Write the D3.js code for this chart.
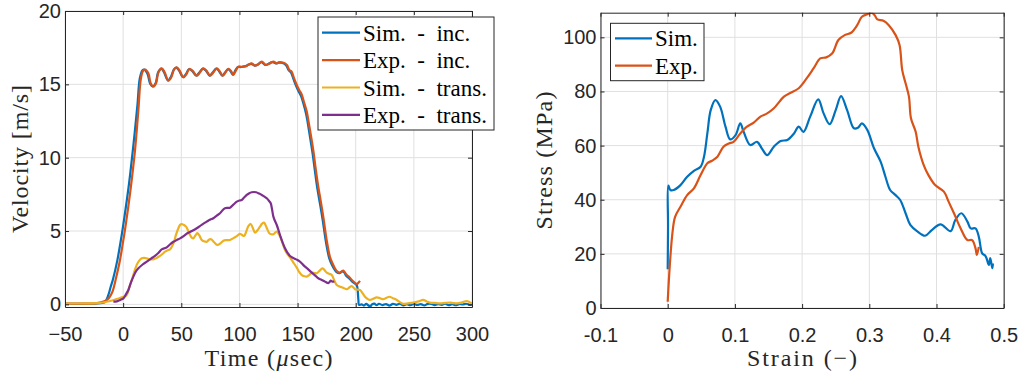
<!DOCTYPE html>
<html>
<head>
<meta charset="utf-8">
<script src="https://cdn.jsdelivr.net/npm/d3@7"></script>
<style>
  body { margin: 0; background: #fff; }
  svg { display: block; }
  .axis text { font-family: "Liberation Sans", Arial, sans-serif; font-size: 20px; fill: #262626; }
  .axis-label { font-family: "Liberation Serif", "Times New Roman", serif; font-size: 24px; fill: #262626; }
  .legend-text { font-family: "Liberation Serif", "Times New Roman", serif; font-size: 23px; fill: #000; white-space: pre; }
</style>
</head>
<body>
<svg id="chart" width="1031" height="378"></svg>
<script>
"use strict"

// ---- left panel: velocity vs time ----
const velTimeTicks = [-50, 0, 50, 100, 150, 200, 250, 300];
const velTicks = [0, 5, 10, 15, 20];
const velNames = ["Sim.  -  inc.", "Exp.  -  inc.", "Sim.  -  trans.", "Exp.  -  trans."];

const simInc = [[-50,0.04],[-30,0.04],[-22,0.06],[-18,0.1],[-15.6,0.15],[-12.7,0.64],[-10.7,1.2],[-8.9,1.66],[-5,3.0],[-1.5,4.6],[1,5.9],[5,8.2],[9,11.0],[12.3,13.6],[14.3,15.4],[16.5,15.95],[18.2,16.0],[21,15.7],[23.2,15.05],[25.5,14.86],[28,15.1],[30,15.8],[32.8,16.07],[35,15.85],[38.5,15.27],[41,15.5],[43.6,16.0],[45.7,16.14],[48,15.95],[51.4,15.5],[54,15.7],[56.5,16.03],[59.5,15.9],[62.9,15.6],[65.5,15.8],[68.6,16.07],[71.5,15.9],[74.3,15.6],[77,15.8],[80,16.07],[82.5,15.9],[85.2,15.6],[87.5,15.8],[90,16.03],[92.3,15.9],[94.4,15.66],[96.5,15.95],[98.7,16.18],[101,16.18],[103,16.2],[105.5,16.24],[107.5,16.33],[110.2,16.4],[113,16.28],[115.5,16.34],[118.8,16.52],[122.2,16.33],[125,16.4],[127,16.48],[128.8,16.52],[131.7,16.42],[133.6,16.48],[136,16.47],[138.8,16.4],[140.5,16.25],[142.4,15.95],[144.4,15.8],[146.5,15.35],[148.7,14.9],[151,14.5],[153,14.2],[155,13.7],[157.3,13.0],[158.7,12.4],[160.9,11.3],[162.9,10.3],[164.9,9.1],[167.2,7.8],[169.4,6.8],[171.5,5.8],[174.4,4.25],[177.2,3.15],[179.5,2.7],[181.6,2.4],[183.5,2.2],[186,2.12],[188.6,2.25],[190,2.2],[191.8,1.95],[194,1.8],[196.2,1.62],[198.4,1.47],[200.5,1.35],[201.3,1.2],[202.3,0.3],[202.8,-0.04],[205,0.0],[207,-0.08],[209,0.03],[211,-0.08],[212.5,-0.15],[214,0.0],[216,0.05],[218,-0.06],[220,0.04],[223,-0.05],[226,0.02],[229,-0.08],[232,0.03],[235,-0.03],[238,0.04],[241,-0.07],[244,0.01],[247,-0.06],[250,0.03],[253,-0.04],[256,0.02],[259,-0.07],[262,0.03],[265,0.03],[268,-0.05],[271,0.02],[274,-0.03],[277,0.04],[280,-0.05],[283,0.01],[286,-0.06],[289,0.02],[292,-0.01],[295,0.04],[298,-0.03],[300,0.01]];

const expInc = [[-50,0.05],[-35,0.05],[-25,0.06],[-20,0.12],[-15,0.25],[-12,0.45],[-9,0.9],[-6.5,1.66],[-3,2.9],[0,4.3],[2,5.3],[6,7.6],[10.2,10.5],[13.1,13.25],[15.1,15.3],[17,15.9],[18.8,16.0],[21.7,15.75],[23.7,15.07],[26,14.84],[28.3,15.07],[30.3,15.8],[33.2,16.09],[35.5,15.86],[38.9,15.25],[41.5,15.5],[44,16.05],[46.1,16.16],[48.5,15.95],[51.8,15.48],[54.5,15.7],[56.9,16.05],[60,15.9],[63.3,15.59],[66,15.8],[69,16.09],[72,15.9],[74.7,15.59],[77.5,15.8],[80.5,16.09],[83,15.9],[85.6,15.59],[88,15.8],[90.5,16.05],[92.8,15.9],[94.8,15.64],[97,15.95],[99.1,16.2],[101.5,16.2],[103.4,16.22],[106,16.25],[108,16.35],[110.6,16.43],[113.4,16.27],[116,16.35],[119.2,16.55],[122.6,16.32],[125.5,16.4],[127.5,16.5],[129.2,16.55],[132.1,16.43],[134,16.5],[136.4,16.5],[139.2,16.43],[141,16.3],[142.9,15.98],[144.9,15.86],[147,15.4],[149.3,14.96],[151.5,14.6],[153.6,14.3],[155.5,13.8],[157.9,13.14],[159.2,12.57],[161.5,11.5],[163.5,10.52],[165.5,9.3],[167.8,8.02],[170,7.0],[172.1,5.98],[175,4.39],[177.8,3.25],[180,2.8],[182.1,2.46],[184,2.25],[186.4,2.16],[188,2.25],[189.3,2.3],[190.5,2.2],[192.3,2.0],[194.5,1.85],[196.6,1.66],[198.8,1.5],[200.9,1.39],[202,1.45],[203.7,1.6]];

const simTrans = [[-50,0.06],[-40,0.06],[-30,0.07],[-20,0.1],[-14.1,0.18],[-8,0.3],[-4,0.4],[0.2,0.52],[3.1,0.64],[5,1.1],[7.4,1.66],[9.5,2.2],[11.7,2.69],[14,3.0],[16,3.14],[18,3.17],[20.3,3.14],[23,3.08],[26,3.07],[28.5,3.15],[31.7,3.3],[34,3.45],[36,3.59],[38,3.68],[40.3,3.75],[42,3.95],[43.8,4.27],[45.5,4.75],[47.5,5.19],[49,5.42],[50.4,5.48],[52,5.42],[54.1,5.3],[56,5.0],[57.5,4.73],[59,4.55],[60.4,4.5],[62,4.68],[63.8,4.85],[65.5,4.7],[67.6,4.39],[69.5,4.3],[71.9,4.27],[73.7,4.4],[75.6,4.44],[78,4.25],[81,4.05],[83.5,4.15],[86.2,4.34],[89,4.38],[91.9,4.39],[94.5,4.5],[97.1,4.62],[98.8,4.72],[100.5,4.8],[102,4.75],[104,4.66],[106,5.0],[107.7,5.34],[109.7,5.48],[111.5,5.2],[113.4,4.89],[115.5,5.05],[117.7,5.3],[119.5,5.5],[121.2,5.57],[123.5,5.2],[125.7,4.85],[127.5,4.78],[129.2,4.78],[132.1,4.96],[134.9,4.62],[137,4.2],[139.2,3.71],[141.5,3.4],[143.5,3.2],[146,2.9],[149.3,2.5],[151.5,2.2],[153.6,2.0],[155.8,1.92],[157.9,1.89],[160,2.0],[162.2,2.16],[164.5,2.14],[166.5,2.12],[169,2.3],[171.3,2.46],[173,2.35],[175.1,2.16],[177.2,2.08],[179.4,2.0],[181.5,1.65],[183.7,1.32],[186,1.22],[188,1.17],[190,1.1],[192.3,1.03],[194.5,1.15],[196.6,1.25],[198,1.15],[199.4,1.03],[201.5,1.0],[203.7,0.98],[206,0.75],[208,0.52],[210,0.38],[212.3,0.3],[215,0.38],[218,0.48],[221,0.42],[223.7,0.35],[226.5,0.45],[228.9,0.52],[232,0.42],[235.3,0.3],[238,0.15],[240.9,0.03],[245,0.07],[249.5,0.12],[254,0.2],[258.1,0.3],[261,0.2],[263.9,0.12],[268,0.1],[272.5,0.07],[277,0.1],[281.1,0.12],[284,0.09],[286.8,0.07],[291,0.12],[295.4,0.23],[298,0.15],[300,0.07]];

const expTrans = [[-8.4,0.18],[-5.5,0.2],[-2.5,0.3],[0.2,0.41],[2.5,0.7],[4.5,0.98],[6.5,1.45],[8.8,1.89],[11,2.25],[13.1,2.46],[16.5,2.7],[20.3,2.91],[24,3.12],[27.4,3.3],[30.5,3.52],[33.2,3.75],[35.5,3.82],[37.5,3.89],[40.5,4.1],[43.2,4.27],[46,4.38],[49,4.5],[52,4.65],[55.2,4.85],[59,5.0],[63.3,5.19],[67.5,5.42],[71.9,5.64],[75,5.78],[77.6,5.87],[80.5,6.05],[83.3,6.21],[85.5,6.42],[87.6,6.55],[89.8,6.58],[91.9,6.59],[94.8,6.8],[97.7,7.0],[100,7.08],[102,7.12],[104.2,7.3],[106.3,7.46],[108.5,7.58],[110.6,7.64],[112.5,7.66],[114.3,7.64],[117,7.55],[119.2,7.46],[121.5,7.35],[123.5,7.23],[125.5,7.05],[126.9,6.89],[128,6.5],[129.2,5.98],[130.5,5.7],[132.1,5.41],[134.9,4.73],[137,4.25],[139.2,3.82],[141.5,3.5],[143.5,3.3],[146.5,3.15],[149.3,3.05],[151.5,2.95],[153.5,2.8],[156.4,2.57],[159,2.4],[162.2,2.16],[165,1.98],[167.8,1.78],[170.5,1.68],[173.6,1.55],[176.4,1.44],[177.5,1.52],[178.5,1.62],[180,1.55],[181.6,1.55]];

// ---- right panel: stress vs strain ----
const strainTicks = [-0.1, 0, 0.1, 0.2, 0.3, 0.4, 0.5];
const stressTicks = [0, 20, 40, 60, 80, 100];
const stressNames = ["Sim.", "Exp."];

const simStress = [[0,14.3],[0.0005,30],[0.001,45.2],[0.004,43.6],[0.009,43.6],[0.019,45.4],[0.029,48.5],[0.039,50.7],[0.049,52.2],[0.054,55.9],[0.059,64.5],[0.064,73.1],[0.071,76.8],[0.078,74.4],[0.086,67.0],[0.093,62.3],[0.101,63.9],[0.108,68.2],[0.113,65.1],[0.123,60.2],[0.133,61.4],[0.140,59.0],[0.148,56.5],[0.158,59.6],[0.168,61.7],[0.178,62.1],[0.188,64.5],[0.195,67.0],[0.202,65.1],[0.212,70.7],[0.224,77.1],[0.232,71.9],[0.241,67.9],[0.250,73.1],[0.258,78.3],[0.267,73.1],[0.277,66.4],[0.283,66.6],[0.289,68.2],[0.297,65.8],[0.307,59.0],[0.317,54.0],[0.324,48.5],[0.331,43.6],[0.339,41.7],[0.346,39.9],[0.354,35.0],[0.361,30.7],[0.371,28.4],[0.383,26.7],[0.393,28.8],[0.406,30.9],[0.421,28.4],[0.428,32.5],[0.437,35.0],[0.446,31.9],[0.451,29.4],[0.458,29.4],[0.463,26.3],[0.468,20.2],[0.473,19.2],[0.478,15.9],[0.480,18.4],[0.483,14.7],[0.484,16.5]];

const expStress = [[0,2.3],[0.003,15.3],[0.007,27.6],[0.011,33.7],[0.019,37.4],[0.029,41.7],[0.039,44.2],[0.049,49.1],[0.059,53.5],[0.066,54.4],[0.074,55.9],[0.083,59.6],[0.091,60.8],[0.098,61.4],[0.108,64.5],[0.118,67.0],[0.128,68.5],[0.138,70.7],[0.148,71.9],[0.158,73.8],[0.173,78.1],[0.183,79.5],[0.195,81.2],[0.207,84.9],[0.217,88.5],[0.227,92.2],[0.236,92.6],[0.245,94.1],[0.254,99.0],[0.264,100.9],[0.273,101.7],[0.282,104.5],[0.289,107.6],[0.297,108.5],[0.303,109.1],[0.308,108.2],[0.312,106.6],[0.321,106.1],[0.329,104.5],[0.339,100.9],[0.345,97.2],[0.349,87.9],[0.354,83.0],[0.359,78.1],[0.362,70.1],[0.369,65.1],[0.373,59.6],[0.381,52.8],[0.388,49.1],[0.398,45.4],[0.411,43.0],[0.418,39.3],[0.426,35.0],[0.436,29.4],[0.446,25.1],[0.453,25.1],[0.458,22.1],[0.460,19.6],[0.463,22.6]];

const matlabColors = ["#0072BD", "#D95319", "#EDB120", "#7E2F8E"];

window.addEventListener("load", drawCharts);

function drawCharts() {
  let svg = d3.select("#chart");

  let left = drawPanel(svg, {
    id: "left", left: 65, right: 472, top: 11, bottom: 307,
    xDomain: [-50, 300], yDomain: [-0.18, 20],
    xTicks: velTimeTicks, yTicks: velTicks, xFormat: d3.format("d"), yFormat: d3.format("d"),
    series: [simInc, expInc, simTrans, expTrans]
  });
  drawLegend(svg, velNames, {x: 318, y: 17, w: 176, h: 113, lineX: 322, lineLen: 38, textX: 363, rowY: 32.7, rowStep: 27.4});

  // x label with italic mu
  let xl = svg.append("text").attr("class", "axis-label")
    .attr("x", 268.5).attr("y", 366).attr("text-anchor", "middle")
    .attr("textLength", 128).attr("lengthAdjust", "spacing");
  xl.append("tspan").text("Time (");
  xl.append("tspan").style("font-style", "italic").text("\u03bc");
  xl.append("tspan").text("sec)");
  svg.append("text").attr("class", "axis-label")
    .attr("transform", "translate(28,159) rotate(-90)")
    .attr("text-anchor", "middle")
    .attr("textLength", 148).attr("lengthAdjust", "spacing")
    .text("Velocity [m/s]");

  drawPanel(svg, {
    id: "right", left: 600.5, right: 1003.7, top: 12.7, bottom: 308,
    xDomain: [-0.1, 0.5], yDomain: [0, 109.1],
    xTicks: strainTicks, yTicks: stressTicks, xFormat: d => String(d), yFormat: d3.format("d"),
    series: [simStress, expStress]
  });
  drawLegend(svg, stressNames, {x: 610.5, y: 23.3, w: 93.5, h: 57.4, lineX: 615, lineLen: 37, textX: 655, rowY: 38.3, rowStep: 27.4});

  svg.append("text").attr("class", "axis-label")
    .attr("x", 802).attr("y", 366).attr("text-anchor", "middle")
    .attr("textLength", 110).attr("lengthAdjust", "spacing")
    .text("Strain (\u2212)");
  svg.append("text").attr("class", "axis-label")
    .attr("transform", "translate(552,160.5) rotate(-90)")
    .attr("text-anchor", "middle")
    .attr("textLength", 138).attr("lengthAdjust", "spacing")
    .text("Stress (MPa)");
}

function drawPanel(svg, p) {
  let x = d3.scaleLinear().domain(p.xDomain).range([p.left, p.right]);
  let y = d3.scaleLinear().domain(p.yDomain).range([p.bottom, p.top]);
  let g = svg.append("g");

  // grid lines (MATLAB style light grey)
  g.selectAll(".gx").data(p.xTicks).enter().append("line")
    .attr("x1", d => x(d)).attr("x2", d => x(d))
    .attr("y1", p.top).attr("y2", p.bottom)
    .style("stroke", "#e0e0e0").style("stroke-width", 1);
  g.selectAll(".gy").data(p.yTicks).enter().append("line")
    .attr("x1", p.left).attr("x2", p.right)
    .attr("y1", d => y(d)).attr("y2", d => y(d))
    .style("stroke", "#e0e0e0").style("stroke-width", 1);

  g.append("clipPath").attr("id", "clip-" + p.id)
    .append("rect")
      .attr("x", p.left).attr("y", p.top)
      .attr("width", p.right - p.left).attr("height", p.bottom - p.top);

  let line = d3.line()
    .x(d => x(d[0]))
    .y(d => y(d[1]))
    .curve(d3.curveCatmullRom.alpha(0.5));

  g.append("g").attr("clip-path", "url(#clip-" + p.id + ")")
    .selectAll("path")
    .data(p.series)
    .enter()
    .append("path")
      .attr("d", line)
      .style("fill", "none")
      .style("stroke", (d, i) => matlabColors[i])
      .style("stroke-width", 2.2)
      .style("stroke-linejoin", "round");

  // axes with inward ticks on all four sides
  let axes = [
    [d3.axisBottom(x).tickValues(p.xTicks).tickFormat(p.xFormat).tickPadding(20), 0, p.bottom],
    [d3.axisTop(x).tickValues(p.xTicks).tickFormat(""), 0, p.top],
    [d3.axisLeft(y).tickValues(p.yTicks).tickFormat(p.yFormat).tickPadding(4), p.left, 0],
    [d3.axisRight(y).tickValues(p.yTicks).tickFormat(""), p.right, 0]
  ];
  for (let [axis, tx, ty] of axes) {
    axis.tickSizeInner(-4).tickSizeOuter(0);
    let a = g.append("g").attr("class", "axis")
      .attr("transform", `translate(${tx},${ty})`)
      .call(axis);
    a.attr("font-family", null).attr("font-size", null);
    a.selectAll("path, line").style("stroke", "#262626").style("stroke-width", 1);
  }
  return {x, y};
}

function drawLegend(svg, names, L) {
  let g = svg.append("g");
  g.append("rect")
    .attr("x", L.x).attr("y", L.y).attr("width", L.w).attr("height", L.h)
    .style("fill", "#fff").style("stroke", "#262626").style("stroke-width", 1);
  let rows = g.selectAll(".row").data(names).enter().append("g")
    .attr("transform", (d, i) => `translate(0,${L.rowY + i * L.rowStep})`);
  rows.append("line")
    .attr("x1", L.lineX).attr("x2", L.lineX + L.lineLen)
    .attr("y1", 0).attr("y2", 0)
    .style("stroke", (d, i) => matlabColors[i])
    .style("stroke-width", 2.2);
  rows.append("text").attr("class", "legend-text")
    .attr("x", L.textX).attr("y", 8)
    .text(d => d);
}
</script>
</body>
</html>
